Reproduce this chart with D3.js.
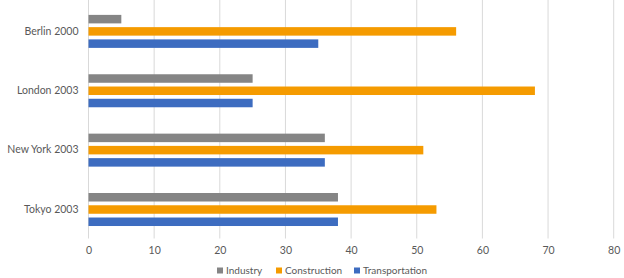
<!DOCTYPE html>
<html>
<head>
<meta charset="utf-8">
<script src="https://cdn.jsdelivr.net/npm/d3@7"></script>
<style>
  body { margin: 0; background: #fff; }
  text { font-family: Lato, "Open Sans", sans-serif; fill: #595959; }
</style>
</head>
<body>
<script>
// data
const cities = ["Berlin 2000", "London 2003", "New York 2003", "Tokyo 2003"];
const seriesNames = ["Industry", "Construction", "Transportation"];
const industry = [5, 25, 36, 38];
const construction = [56, 68, 51, 53];
const transportation = [35, 25, 36, 38];
const xTicks = [0, 10, 20, 30, 40, 50, 60, 70, 80];
const colors = ["#858585", "#F59B00", "#3D6CC0"];

const svgSize = {width: 624, height: 278};
const margin = {top: 1.5, right: 10, bottom: 39, left: 88.5};
const width = 613.7 - margin.left,
      height = svgSize.height - margin.top - margin.bottom;

let svg = d3.select("body").append("svg")
            .attr("width", svgSize.width)
            .attr("height", svgSize.height),
    g = svg.append("g").attr("transform", `translate(${margin.left},${margin.top})`);

const x = d3.scaleLinear().domain([0, 80]).range([0, width]);
const y = d3.scaleBand().domain(cities).range([0, height]);
// bars inside each city group
const inner = d3.scaleBand().domain(seriesNames).range([-16.3, 16.7]).paddingInner(0.306);

// gridlines
g.selectAll(".grid")
  .data(xTicks)
  .enter().append("line")
  .attr("x1", d => x(d)).attr("x2", d => x(d))
  .attr("y1", -1.5).attr("y2", height - 0.5)
  .attr("stroke", "#d9d9d9")
  .attr("stroke-width", 1);

// x axis
const xAxis = g.append("g")
  .attr("transform", `translate(0,${height})`)
  .call(d3.axisBottom(x).tickValues(xTicks).tickSize(0).tickPadding(8));
xAxis.select(".domain").remove();
xAxis.selectAll("text").style("font-size", "10.5px").attr("dy", "0.71em");

// y axis labels
const yAxis = g.append("g")
  .call(d3.axisLeft(y).tickSize(0).tickPadding(10));
yAxis.select(".domain").remove();
yAxis.selectAll("text").style("font-size", "10.5px");

// bars
const seriesData = [industry, construction, transportation];
seriesNames.forEach((s, si) => {
  g.selectAll(".bar-" + si)
    .data(seriesData[si])
    .enter().append("rect")
    .attr("x", x(0))
    .attr("y", (d, i) => y(cities[i]) + y.bandwidth() / 2 + inner(s))
    .attr("width", d => x(d) - x(0))
    .attr("height", inner.bandwidth())
    .attr("fill", colors[si]);
});

// legend
const legendX = [217, 276, 354];
const legend = svg.append("g");
seriesNames.forEach((s, i) => {
  legend.append("rect")
    .attr("x", legendX[i]).attr("y", 267.5)
    .attr("width", 6).attr("height", 6)
    .attr("fill", colors[i]);
  legend.append("text")
    .attr("x", legendX[i] + 9).attr("y", 274)
    .style("font-size", "10px")
    .text(s);
});
</script>
</body>
</html>
